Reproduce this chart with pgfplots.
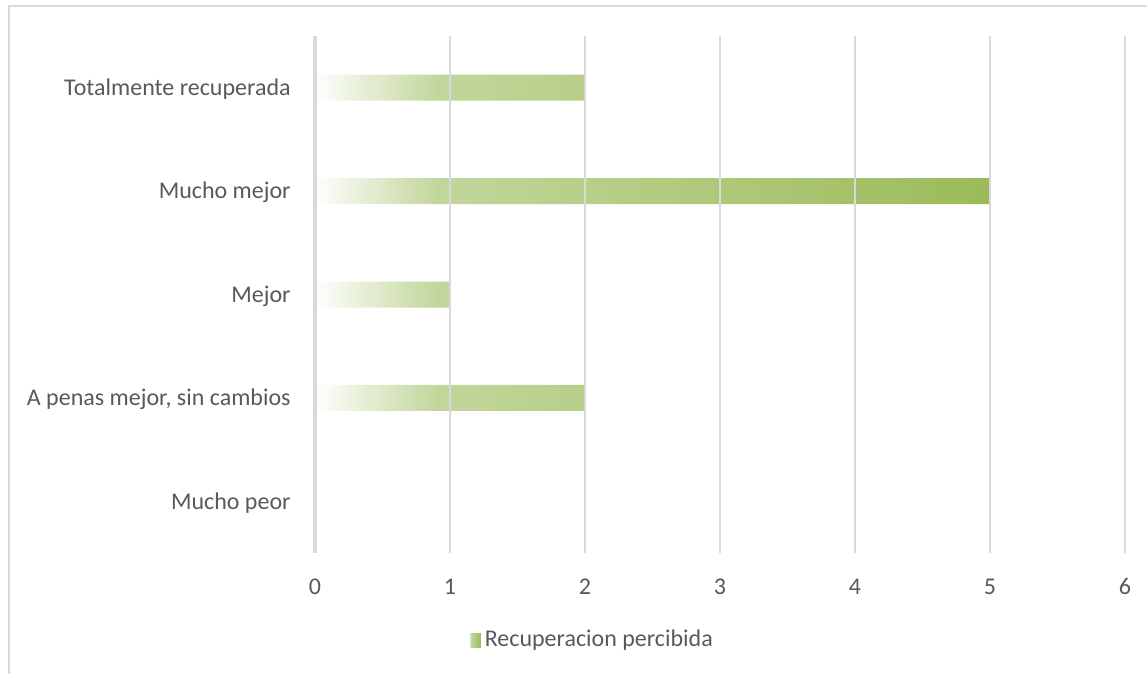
\documentclass[border=0pt]{standalone}
\usepackage{pgfplots}
\pgfplotsset{compat=1.18}
\usepackage{fontspec}
\setmainfont{Carlito}
\definecolor{txt}{HTML}{595959}
\definecolor{gridc}{HTML}{D9D9D9}
\definecolor{lg}{HTML}{C2D69B}
\definecolor{dg}{HTML}{9BBB59}
\pgfdeclarehorizontalshading{barshade}{100bp}{color(0bp)=(white); color(25bp)=(white); color(34bp)=(lg); color(75bp)=(dg); color(100bp)=(dg)}
\begin{document}
\begin{tikzpicture}
\path[use as bounding box] (0pt,0pt) rectangle (573.5pt,-337pt);
\draw[gridc, line width=1pt] (4.5pt,-337pt) -- (4.5pt,-3pt) -- (573.5pt,-3pt);
\begin{axis}[
  at={(157.5pt,-276.5pt)}, anchor=south west,
  scale only axis, width=405pt, height=258.5pt,
  xmin=0, xmax=6, ymin=-0.5, ymax=4.5,
  enlargelimits=false,
  xbar, bar width=13pt,
  xtick={0,1,2,3,4,5,6}, ytick={0,1,2,3,4},
  yticklabels={Mucho peor,{A penas mejor, sin cambios},Mejor,Mucho mejor,Totalmente recuperada},
  axis line style={draw=none},
  major tick length=0pt,
  xmajorgrids, grid style={gridc, line width=0.75pt},
  extra x ticks={0}, extra x tick labels={},
  extra x tick style={grid style={gridc, line width=1.6pt}},
  axis on top,
  /pgf/number format/assume math mode=true,
  tick label style={font=\fontsize{12}{14}\selectfont, text=txt, inner sep=0pt},
  xticklabel style={anchor=base, yshift=-20.5pt},
  yticklabel style={anchor=base east, xshift=-12pt, yshift=-3.9pt},
  legend style={at={(0.343,-0.1683)}, anchor=center, draw=none, fill=none,
    font=\fontsize{12}{14}\selectfont, text=txt},
  legend image code/.code={\fill[shading=barshade] (0pt,-3.5pt) rectangle (6pt,3.5pt);},
]
\addplot[draw=none, shading=barshade] coordinates {(0,0) (2,1) (1,2) (5,3) (2,4)};
\addlegendentry{Recuperacion percibida}
\end{axis}
\end{tikzpicture}
\end{document}
